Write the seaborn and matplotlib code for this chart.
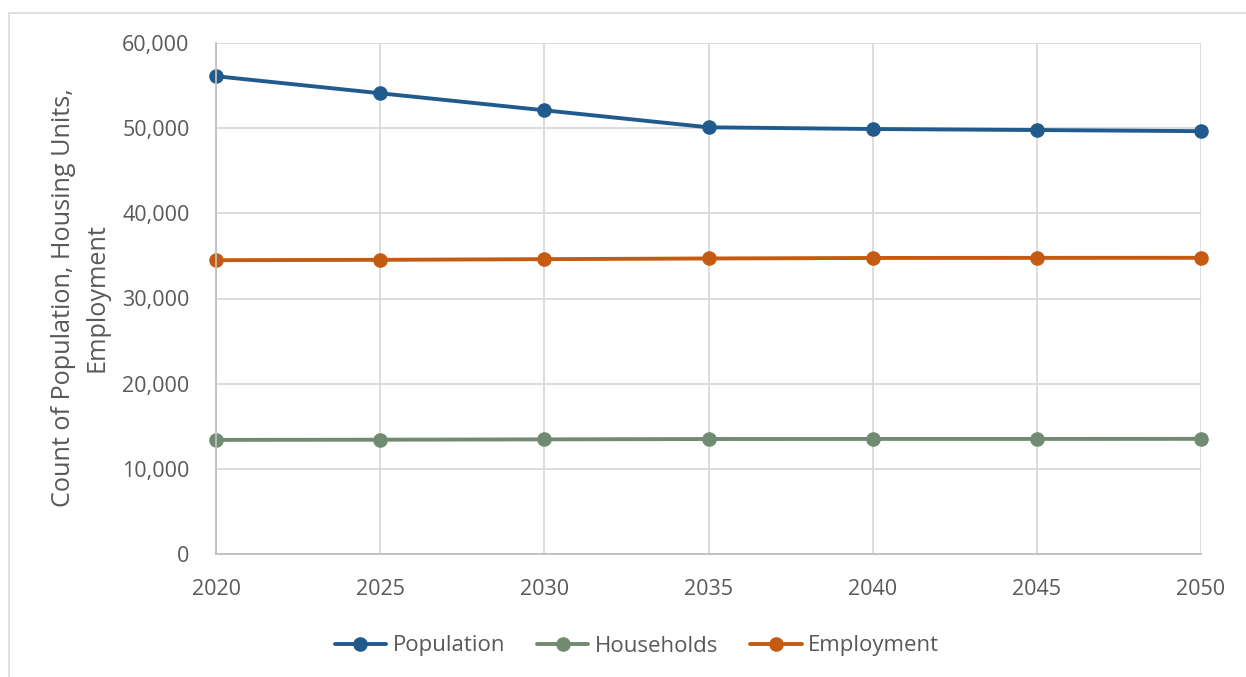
import matplotlib
matplotlib.use("Agg")
import matplotlib.pyplot as plt
from matplotlib.patches import Rectangle
from matplotlib.ticker import FuncFormatter
import pandas as pd
import seaborn as sns

years = [2020, 2025, 2030, 2035, 2040, 2045, 2050]
population = [56100, 54100, 52100, 50100, 49900, 49780, 49650]
households = [13400, 13420, 13460, 13500, 13510, 13510, 13520]
employment = [34500, 34540, 34620, 34700, 34760, 34770, 34780]
series_names = ["Population", "Households", "Employment"]
colors = ["#215A8C", "#718A72", "#C55A11"]
y_ticks = [0, 10000, 20000, 30000, 40000, 50000, 60000]
y_label = "Count of Population, Housing Units,\nEmployment"

df = pd.DataFrame({
    "Year": years * 3,
    "Value": population + households + employment,
    "Series": [series_names[0]] * len(years)
    + [series_names[1]] * len(years)
    + [series_names[2]] * len(years),
})

sns.set_style("whitegrid")
plt.rcParams["font.family"] = ["Open Sans", "DejaVu Sans"]
text_color = "#595959"

W, H = 1246, 677
fig = plt.figure(figsize=(W / 100, H / 100), dpi=100)
ax = fig.add_axes([216 / W, 1 - 554 / H, (1201 - 216) / W, (554 - 43) / H])

sns.lineplot(
    data=df, x="Year", y="Value", hue="Series", hue_order=series_names,
    palette=colors, marker="o", markersize=10.5, markeredgewidth=0,
    linewidth=2.8, ax=ax, legend=True,
)
for line in ax.lines:
    line.set_clip_on(False)

ax.set_xlim(2020, 2050)
ax.set_ylim(0, 60000)
ax.set_xticks(years)
ax.set_yticks(y_ticks)
ax.yaxis.set_major_formatter(FuncFormatter(lambda v, p: f"{int(v):,}"))
ax.tick_params(axis="both", length=0, labelsize=15.5, colors=text_color)
ax.tick_params(axis="x", pad=18)
ax.tick_params(axis="y", pad=19)
ax.grid(True, color="#d9d9d9", linewidth=1.3)
ax.set_axisbelow(True)
for side in ["top", "right"]:
    ax.spines[side].set_visible(False)
for side in ["left", "bottom"]:
    ax.spines[side].set_color("#bfbfbf")
    ax.spines[side].set_linewidth(1.3)
ax.set_xlabel("")
ax.set_ylabel("")

# y-axis title: two centred lines, sized so the longer line spans ~421 px
label = fig.text(80 / W, 1 - 298 / H, y_label, rotation=90, rotation_mode="anchor",
                 ha="center", va="center", multialignment="center",
                 fontsize=15.5, color=text_color, linespacing=1.45)
renderer = fig.canvas.get_renderer()
probe = fig.text(0, 0, y_label.split("\n")[0], fontsize=15.5)
width = probe.get_window_extent(renderer).width
probe.remove()
label.set_fontsize(15.5 * 421 / width)

handles, labels = ax.get_legend_handles_labels()
ax.legend_.remove()
fig.legend(handles, labels, loc="center", bbox_to_anchor=(637 / W, 1 - 646 / H),
           ncol=3, frameon=False, fontsize=16, labelcolor=text_color,
           handlelength=2.3, handletextpad=0.3, columnspacing=1.45)

fig.patches.append(Rectangle((8.5 / W, -0.02), 1.05, 1 - 13.5 / H + 0.02,
                             transform=fig.transFigure, fill=False,
                             edgecolor="#d9d9d9", linewidth=1.2))

fig.savefig("out.png", dpi=100, facecolor="white")
